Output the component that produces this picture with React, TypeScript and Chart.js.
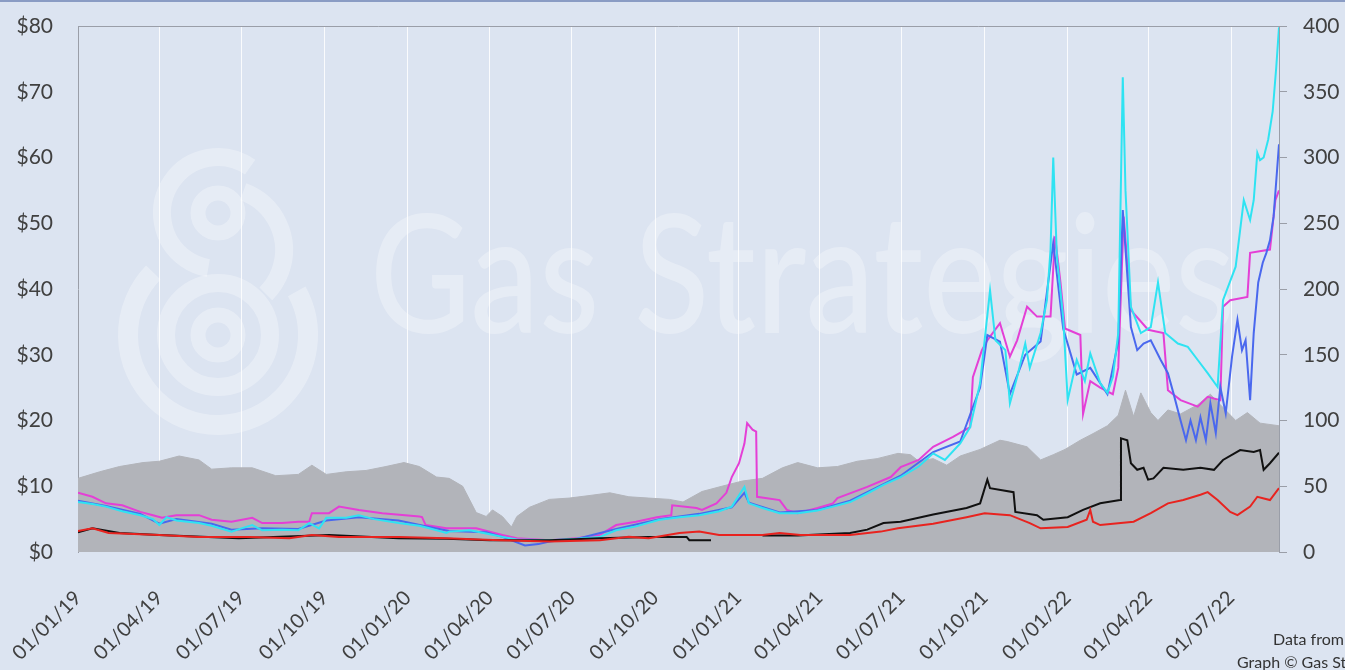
import React, { useEffect, useRef } from "react";
import { Chart, registerables } from "chart.js";
Chart.register(...registerables);

type Pt = [string, number | null];

const startDate = "2019-01-01";
const endDate = "2022-08-23";
const xTickDates = [
  "2019-01-01", "2019-04-01", "2019-07-01", "2019-10-01",
  "2020-01-01", "2020-04-01", "2020-07-01", "2020-10-01",
  "2021-01-01", "2021-04-01", "2021-07-01", "2021-10-01",
  "2022-01-01", "2022-04-01", "2022-07-01",
];
const leftTicks = [0, 10, 20, 30, 40, 50, 60, 70, 80];
const rightTicks = [0, 50, 100, 150, 200, 250, 300, 350, 400];

// Oil (grey area, right axis)
const oil: Pt[] = [
  ["2019-01-01", 56], ["2019-01-25", 61], ["2019-02-16", 65], ["2019-03-14", 68], ["2019-04-01", 69],
  ["2019-04-23", 73], ["2019-05-15", 70], ["2019-05-29", 63], ["2019-06-20", 64], ["2019-07-13", 64],
  ["2019-08-08", 58], ["2019-09-02", 59], ["2019-09-17", 66], ["2019-10-03", 59], ["2019-10-25", 61],
  ["2019-11-16", 62], ["2019-12-08", 65], ["2019-12-28", 68], ["2020-01-14", 65], ["2020-02-02", 57],
  ["2020-02-16", 56], ["2020-03-02", 50], ["2020-03-17", 30], ["2020-03-28", 27], ["2020-04-04", 32],
  ["2020-04-15", 27], ["2020-04-25", 19], ["2020-05-01", 27], ["2020-05-15", 34], ["2020-06-06", 40],
  ["2020-06-28", 41], ["2020-07-21", 43], ["2020-08-12", 45], ["2020-09-02", 42], ["2020-09-24", 41],
  ["2020-10-17", 40], ["2020-11-01", 38], ["2020-11-22", 46], ["2020-12-14", 50], ["2021-01-06", 54],
  ["2021-01-28", 56], ["2021-02-19", 64], ["2021-03-08", 68], ["2021-03-30", 64], ["2021-04-21", 65],
  ["2021-05-13", 69], ["2021-06-04", 71], ["2021-06-27", 75], ["2021-07-11", 74], ["2021-07-20", 69],
  ["2021-08-05", 71], ["2021-08-20", 66], ["2021-09-04", 73], ["2021-09-26", 78], ["2021-10-18", 85],
  ["2021-10-26", 84], ["2021-11-17", 80], ["2021-12-02", 70], ["2021-12-16", 74], ["2021-12-29", 78],
  ["2022-01-15", 85], ["2022-01-29", 90], ["2022-02-14", 96], ["2022-02-26", 104], ["2022-03-06", 123],
  ["2022-03-15", 103], ["2022-03-23", 121], ["2022-04-03", 106], ["2022-04-11", 100], ["2022-04-22", 108],
  ["2022-05-06", 105], ["2022-05-25", 112], ["2022-06-08", 120], ["2022-06-19", 112], ["2022-07-06", 100],
  ["2022-07-19", 106], ["2022-08-02", 98], ["2022-08-23", 96],
];

// Magenta line ($)
const magenta: Pt[] = [
  ["2019-01-01", 9.0], ["2019-01-17", 8.4], ["2019-02-01", 7.4], ["2019-02-19", 7.1], ["2019-03-11", 6.1],
  ["2019-03-25", 5.6], ["2019-04-04", 5.2], ["2019-04-20", 5.6], ["2019-05-15", 5.6], ["2019-05-29", 4.9],
  ["2019-06-20", 4.6], ["2019-07-13", 5.2], ["2019-07-24", 4.4], ["2019-08-15", 4.4], ["2019-09-02", 4.6],
  ["2019-09-14", 4.6], ["2019-09-17", 5.9], ["2019-10-06", 5.9], ["2019-10-17", 6.9], ["2019-11-08", 6.4],
  ["2019-12-04", 5.9], ["2020-01-14", 5.4], ["2020-01-17", 5.3], ["2020-01-21", 4.1], ["2020-02-13", 3.6],
  ["2020-03-17", 3.6], ["2020-04-15", 2.6], ["2020-05-01", 2.1], ["2020-06-06", 1.8], ["2020-07-06", 2.1],
  ["2020-08-01", 2.6], ["2020-08-19", 4.1], ["2020-09-10", 4.6], ["2020-10-03", 5.3], ["2020-10-19", 5.6],
  ["2020-10-20", 7.1], ["2020-11-16", 6.7], ["2020-11-22", 6.4], ["2020-12-08", 7.4], ["2020-12-19", 9.0],
  ["2020-12-25", 11.4], ["2021-01-02", 13.5], ["2021-01-08", 16.5], ["2021-01-11", 19.6], ["2021-01-17", 18.6],
  ["2021-01-21", 18.3], ["2021-01-22", 8.4], ["2021-02-16", 7.9], ["2021-02-24", 6.4], ["2021-03-08", 5.9],
  ["2021-03-30", 6.7], ["2021-04-16", 7.4], ["2021-04-21", 8.2], ["2021-05-24", 9.9], ["2021-06-19", 11.4],
  ["2021-06-30", 12.9], ["2021-07-20", 14.0], ["2021-08-05", 16.0], ["2021-08-27", 17.5], ["2021-09-15", 19.0],
  ["2021-09-18", 26.6], ["2021-09-28", 30.7], ["2021-10-04", 32.2], ["2021-10-18", 34.8], ["2021-10-29", 29.7],
  ["2021-11-06", 32.2], ["2021-11-17", 37.3], ["2021-11-28", 35.8], ["2021-12-13", 35.8], ["2021-12-18", 48],
  ["2021-12-24", 41], ["2021-12-29", 34], ["2022-01-15", 33], ["2022-01-18", 21], ["2022-01-26", 26],
  ["2022-02-06", 25], ["2022-02-20", 24], ["2022-02-26", 28], ["2022-03-04", 51], ["2022-03-12", 36.8],
  ["2022-03-31", 33.8], ["2022-04-17", 33.3], ["2022-04-22", 24.6], ["2022-05-06", 23.1], ["2022-05-25", 22.1],
  ["2022-06-05", 23.6], ["2022-06-19", 23.1], ["2022-06-22", 37.3], ["2022-06-30", 38.3], ["2022-07-19", 38.8],
  ["2022-07-22", 45.5], ["2022-08-13", 46], ["2022-08-19", 53.5], ["2022-08-23", 55],
];

// Cyan line ($)
const cyan: Pt[] = [
  ["2019-01-01", 7.6], ["2019-01-17", 7.3], ["2019-02-01", 6.9], ["2019-02-19", 6.2], ["2019-03-11", 5.6],
  ["2019-03-25", 5.0], ["2019-04-01", 4.1], ["2019-04-09", 5.3], ["2019-04-20", 4.8], ["2019-05-15", 4.4],
  ["2019-05-29", 4.0], ["2019-06-20", 3.1], ["2019-07-01", 3.6], ["2019-07-13", 4.1], ["2019-07-24", 3.3],
  ["2019-08-15", 3.4], ["2019-09-02", 3.3], ["2019-09-14", 4.4], ["2019-09-25", 3.6], ["2019-10-03", 5.2],
  ["2019-10-25", 5.2], ["2019-11-08", 5.6], ["2019-11-25", 5.0], ["2019-12-22", 4.4], ["2020-01-14", 4.0],
  ["2020-01-25", 3.6], ["2020-02-13", 2.9], ["2020-02-16", 3.1], ["2020-03-10", 3.3], ["2020-03-28", 2.8],
  ["2020-04-15", 2.3], ["2020-05-01", 1.9], ["2020-06-06", 1.8], ["2020-07-06", 2.0], ["2020-08-01", 2.3],
  ["2020-08-19", 3.3], ["2020-09-10", 3.9], ["2020-10-06", 4.9], ["2020-10-28", 5.3], ["2020-11-19", 5.6],
  ["2020-12-11", 6.2], ["2020-12-25", 6.9], ["2021-01-08", 9.9], ["2021-01-13", 7.4], ["2021-01-28", 6.7],
  ["2021-02-16", 5.9], ["2021-03-08", 5.9], ["2021-03-30", 6.3], ["2021-04-16", 6.9], ["2021-05-05", 7.6],
  ["2021-05-24", 8.9], ["2021-06-11", 10.2], ["2021-06-30", 11.4], ["2021-07-20", 13.0], ["2021-08-05", 15.0],
  ["2021-08-18", 14.0], ["2021-09-04", 16.5], ["2021-09-15", 19.0], ["2021-09-26", 25.7], ["2021-10-01", 32.2],
  ["2021-10-07", 39.8], ["2021-10-13", 32.2], ["2021-10-24", 30.7], ["2021-10-29", 22.6], ["2021-11-06", 26.6],
  ["2021-11-15", 31.7], ["2021-11-20", 28.0], ["2021-12-02", 33.3], ["2021-12-09", 38.3], ["2021-12-13", 46],
  ["2021-12-16", 60], ["2021-12-20", 45], ["2021-12-27", 35.7], ["2022-01-01", 23.1], ["2022-01-11", 29.2],
  ["2022-01-20", 26.0], ["2022-01-26", 30.2], ["2022-02-06", 25.7], ["2022-02-14", 24.2], ["2022-02-20", 26.6],
  ["2022-02-26", 33.3], ["2022-03-03", 72.2], ["2022-03-06", 55], ["2022-03-12", 37.3], ["2022-03-23", 33.3],
  ["2022-04-03", 34.2], ["2022-04-11", 41], ["2022-04-19", 33.3], ["2022-05-03", 31.7], ["2022-05-14", 31.2],
  ["2022-05-25", 29.2], ["2022-06-05", 27.2], ["2022-06-16", 25.1], ["2022-06-22", 38.3], ["2022-07-06", 43.4],
  ["2022-07-15", 53.5], ["2022-07-22", 50.5], ["2022-07-26", 53.5], ["2022-07-30", 60.7], ["2022-08-02", 59.6],
  ["2022-08-06", 60], ["2022-08-11", 62.7], ["2022-08-16", 67], ["2022-08-20", 73.8], ["2022-08-23", 79.8],
];

// Blue line ($)
const blue: Pt[] = [
  ["2019-01-01", 7.8], ["2019-02-01", 7.0], ["2019-03-11", 5.8], ["2019-04-01", 4.3], ["2019-04-20", 5.0],
  ["2019-05-29", 4.3], ["2019-06-20", 3.4], ["2019-07-24", 3.6], ["2019-09-02", 3.5], ["2019-10-03", 4.8],
  ["2019-11-08", 5.3], ["2019-12-22", 4.8], ["2020-01-25", 3.8], ["2020-02-16", 3.2], ["2020-03-28", 3.0],
  ["2020-04-15", 2.3], ["2020-05-10", 1.0], ["2020-05-25", 1.2], ["2020-06-06", 1.6], ["2020-07-06", 2.0],
  ["2020-08-19", 3.5], ["2020-10-06", 5.0], ["2020-11-19", 5.8], ["2020-12-25", 6.8], ["2021-01-08", 9.0],
  ["2021-01-13", 7.5], ["2021-02-16", 6.0], ["2021-03-30", 6.4], ["2021-05-05", 7.8], ["2021-06-30", 11.6],
  ["2021-08-05", 15.2], ["2021-09-04", 16.8], ["2021-09-26", 25.0], ["2021-10-04", 33], ["2021-10-18", 32],
  ["2021-10-29", 24], ["2021-11-15", 30], ["2021-12-02", 32], ["2021-12-16", 47], ["2021-12-27", 34],
  ["2022-01-11", 27], ["2022-01-26", 28], ["2022-02-14", 24], ["2022-02-26", 32], ["2022-03-03", 52],
  ["2022-03-12", 34.2], ["2022-03-19", 30.7], ["2022-03-26", 31.7], ["2022-04-03", 32.2], ["2022-04-14", 29.2],
  ["2022-04-22", 27.2], ["2022-04-28", 24.2], ["2022-05-06", 20], ["2022-05-12", 17], ["2022-05-17", 20],
  ["2022-05-23", 17], ["2022-05-28", 20.5], ["2022-06-03", 17], ["2022-06-08", 22.6], ["2022-06-14", 18.1],
  ["2022-06-19", 25.1], ["2022-06-25", 21.1], ["2022-07-02", 29.7], ["2022-07-08", 35.3], ["2022-07-13", 30.7],
  ["2022-07-17", 32.2], ["2022-07-22", 23.1], ["2022-07-26", 33.3], ["2022-07-31", 41], ["2022-08-05", 44],
  ["2022-08-09", 45.5], ["2022-08-13", 47.4], ["2022-08-17", 51], ["2022-08-23", 62],
];

// Black line ($) — gap in Dec 2020
const black: Pt[] = [
  ["2019-01-01", 3.0], ["2019-01-17", 3.6], ["2019-02-16", 2.9], ["2019-04-01", 2.6], ["2019-06-28", 2.1],
  ["2019-10-06", 2.6], ["2019-12-22", 2.1], ["2020-02-13", 2.0], ["2020-04-01", 1.8], ["2020-06-06", 1.8],
  ["2020-08-01", 2.1], ["2020-09-24", 2.3], ["2020-11-05", 2.3], ["2020-11-08", 1.8], ["2020-12-02", 1.8],
  ["2020-12-15", null],
  ["2021-01-28", 2.5], ["2021-03-08", 2.5], ["2021-05-05", 2.9], ["2021-05-24", 3.4], ["2021-06-11", 4.4],
  ["2021-06-30", 4.6], ["2021-08-05", 5.7], ["2021-09-11", 6.7], ["2021-09-26", 7.4], ["2021-10-04", 11.0],
  ["2021-10-07", 9.7], ["2021-11-02", 9.1], ["2021-11-04", 6.1], ["2021-11-28", 5.6], ["2021-12-05", 4.9],
  ["2022-01-01", 5.3], ["2022-01-18", 6.4], ["2022-02-06", 7.4], ["2022-02-28", 7.9], ["2022-03-01", 17.3],
  ["2022-03-08", 17.0], ["2022-03-12", 13.5], ["2022-03-19", 12.5], ["2022-03-26", 12.8], ["2022-03-31", 11.0],
  ["2022-04-06", 11.2], ["2022-04-17", 12.8], ["2022-05-09", 12.5], ["2022-05-28", 12.8], ["2022-06-12", 12.5],
  ["2022-06-22", 14.0], ["2022-07-11", 15.5], ["2022-07-26", 15.2], ["2022-08-02", 15.5], ["2022-08-06", 12.5],
  ["2022-08-13", 13.5], ["2022-08-23", 15.1],
];

// Red line ($)
const red: Pt[] = [
  ["2019-01-01", 3.2], ["2019-01-17", 3.6], ["2019-02-04", 2.9], ["2019-04-01", 2.6], ["2019-05-15", 2.3],
  ["2019-07-10", 2.3], ["2019-08-23", 2.1], ["2019-09-17", 2.6], ["2019-10-17", 2.3], ["2019-12-22", 2.3],
  ["2020-02-13", 2.1], ["2020-04-12", 1.8], ["2020-06-06", 1.6], ["2020-08-01", 1.8], ["2020-09-02", 2.3],
  ["2020-09-24", 2.1], ["2020-10-28", 2.9], ["2020-11-19", 3.1], ["2020-12-11", 2.6], ["2021-01-28", 2.6],
  ["2021-02-16", 2.9], ["2021-03-11", 2.6], ["2021-05-05", 2.6], ["2021-06-08", 3.1], ["2021-06-27", 3.6],
  ["2021-08-05", 4.3], ["2021-09-11", 5.3], ["2021-10-01", 5.9], ["2021-10-18", 5.7], ["2021-10-29", 5.6],
  ["2021-11-20", 4.4], ["2021-12-02", 3.6], ["2022-01-01", 3.8], ["2022-01-22", 4.9], ["2022-01-26", 6.4],
  ["2022-01-29", 4.6], ["2022-02-06", 4.1], ["2022-03-15", 4.6], ["2022-04-03", 5.9], ["2022-04-22", 7.4],
  ["2022-05-09", 7.9], ["2022-05-28", 8.7], ["2022-06-05", 9.1], ["2022-06-16", 7.9], ["2022-06-30", 6.1],
  ["2022-07-08", 5.6], ["2022-07-22", 6.9], ["2022-07-30", 8.4], ["2022-08-13", 7.9], ["2022-08-23", 9.7],
];

const DAY = 86400000;
const t0 = Date.parse(startDate + "T00:00:00Z");
const dayOf = (s: string) => Math.round((Date.parse(s + "T00:00:00Z") - t0) / DAY);
const toXY = (arr: Pt[]) => arr.map(([d, v]) => ({ x: dayOf(d), y: v === null ? NaN : v }));
const pad2 = (n: number) => (n < 10 ? "0" : "") + n;
const fmtDay = (day: number) => {
  const d = new Date(t0 + day * DAY);
  return pad2(d.getUTCDate()) + "/" + pad2(d.getUTCMonth() + 1) + "/" + pad2(d.getUTCFullYear() % 100);
};

const BG = "#dce4f1";
const FONT = "Lato, 'Open Sans', sans-serif";
const WM = "rgba(255,255,255,0.30)";

const zeroPad = (scale: any) => {
  scale.paddingLeft = 0;
  scale.paddingRight = 0;
  scale.paddingTop = 0;
  scale.paddingBottom = 0;
};

const decorPlugin = {
  id: "decor",
  beforeDraw(chart: any) {
    const { ctx, width, height } = chart;
    ctx.save();
    ctx.fillStyle = BG;
    ctx.fillRect(0, 0, width, height);
    ctx.fillStyle = "#8a9cc4";
    ctx.fillRect(0, 0, width, 2);
    ctx.restore();
  },
  beforeDatasetsDraw(chart: any) {
    const { ctx, chartArea } = chart;
    ctx.save();
    ctx.strokeStyle = WM;
    const D = Math.PI / 180;
    const arc = (cx: number, cy: number, r: number, a0: number, a1: number, lw: number, anti = false) => {
      ctx.lineWidth = lw;
      ctx.beginPath();
      ctx.arc(cx, cy, r, a0 * D, a1 * D, anti);
      ctx.stroke();
    };
    arc(218, 213, 20, 0, 360, 15);
    arc(218, 213, 56, -55, 100, 18, true);
    arc(222, 250, 62, -70, 45, 18);
    arc(218, 335, 20, 0, 360, 15);
    arc(218, 335, 52, 0, 360, 18);
    arc(218, 335, 90, 224, -29, 20, true);
    ctx.fillStyle = WM;
    ctx.font = "500 165px " + FONT;
    ctx.textBaseline = "alphabetic";
    const txt = "Gas Strategies";
    const w = ctx.measureText(txt).width;
    ctx.translate(370, 333);
    ctx.scale(865 / w, 1);
    ctx.fillText(txt, 0, 0);
    ctx.restore();
    ctx.save();
    ctx.strokeStyle = "#9a9ea8";
    ctx.lineWidth = 1;
    ctx.beginPath();
    ctx.moveTo(chartArea.left, chartArea.top + 0.5);
    ctx.lineTo(chartArea.right, chartArea.top + 0.5);
    ctx.stroke();
    ctx.restore();
  },
  afterDraw(chart: any) {
    const { ctx } = chart;
    ctx.save();
    ctx.fillStyle = "#333";
    ctx.font = "16px " + FONT;
    ctx.textBaseline = "alphabetic";
    ctx.textAlign = "left";
    ctx.fillText("Data from Gas Strategies", 1273, 645);
    ctx.fillText("Graph © Gas Strategies", 1237, 668);
    ctx.restore();
  },
};

export default function App() {
  const ref = useRef<HTMLCanvasElement>(null);
  useEffect(() => {
    document.body.style.margin = "0";
    const canvas = ref.current!;
    const line = (label: string, data: Pt[], color: string, order: number) => ({
      type: "line" as const,
      label,
      data: toXY(data),
      borderColor: color,
      backgroundColor: color,
      borderWidth: 2,
      pointRadius: 0,
      tension: 0,
      fill: false,
      spanGaps: false,
      yAxisID: "y",
      order,
    });
    const chart = new Chart(canvas, {
      type: "line",
      data: {
        datasets: [
          line("Red", red, "#e8231f", 1),
          line("Black", black, "#111111", 2),
          line("Cyan", cyan, "#2fe3f2", 3),
          line("Blue", blue, "#4a68ee", 4),
          line("Magenta", magenta, "#e43fd6", 5),
          {
            type: "line",
            label: "Oil",
            data: toXY(oil),
            borderColor: "#b2b4ba",
            backgroundColor: "#b2b4ba",
            borderWidth: 1,
            pointRadius: 0,
            tension: 0,
            fill: "origin",
            yAxisID: "y2",
            order: 6,
          } as any,
        ],
      },
      options: {
        responsive: false,
        animation: false,
        devicePixelRatio: 1,
        parsing: false as any,
        layout: { padding: { top: 26, left: 0, right: 0, bottom: 0 } },
        plugins: { legend: { display: false }, tooltip: { enabled: false } },
        scales: {
          x: {
            type: "linear",
            min: 0,
            max: dayOf(endDate),
            afterBuildTicks: (scale: any) => {
              scale.ticks = xTickDates.map((d) => ({ value: dayOf(d) }));
            },
            afterFit: (scale: any) => {
              scale.height = 118;
              zeroPad(scale);
            },
            ticks: {
              autoSkip: false,
              minRotation: 45,
              maxRotation: 45,
              padding: 34,
              color: "#404040",
              font: { family: FONT, size: 20 },
              callback: (v: any) => fmtDay(Number(v)),
            },
            grid: { color: "rgba(255,255,255,0.85)", lineWidth: 1, drawTicks: false },
            border: { display: false },
          },
          y: {
            position: "left",
            min: 0,
            max: 80,
            afterBuildTicks: (scale: any) => {
              scale.ticks = leftTicks.map((v) => ({ value: v }));
            },
            afterFit: (scale: any) => {
              scale.width = 78;
              zeroPad(scale);
            },
            ticks: {
              padding: 25,
              color: "#404040",
              font: { family: FONT, size: 21 },
              callback: (v: any) => "$" + v,
            },
            grid: { display: false, drawTicks: false },
            border: { display: true, color: "#9a9ea8", width: 1 },
          },
          y2: {
            position: "right",
            min: 0,
            max: 400,
            afterBuildTicks: (scale: any) => {
              scale.ticks = rightTicks.map((v) => ({ value: v }));
            },
            afterFit: (scale: any) => {
              scale.width = 66;
              zeroPad(scale);
            },
            ticks: {
              padding: 16,
              color: "#404040",
              font: { family: FONT, size: 21 },
              callback: (v: any) => String(v),
            },
            grid: { drawOnChartArea: false, drawTicks: true, tickLength: 8, color: "#9a9ea8" },
            border: { display: true, color: "#9a9ea8", width: 1 },
          },
        },
      },
      plugins: [decorPlugin],
    });
    return () => chart.destroy();
  }, []);
  return (
    <div style={{ position: "fixed", left: 0, top: 0, width: 1345, height: 670, background: BG }}>
      <canvas ref={ref} width={1345} height={670} style={{ display: "block" }} />
    </div>
  );
}
